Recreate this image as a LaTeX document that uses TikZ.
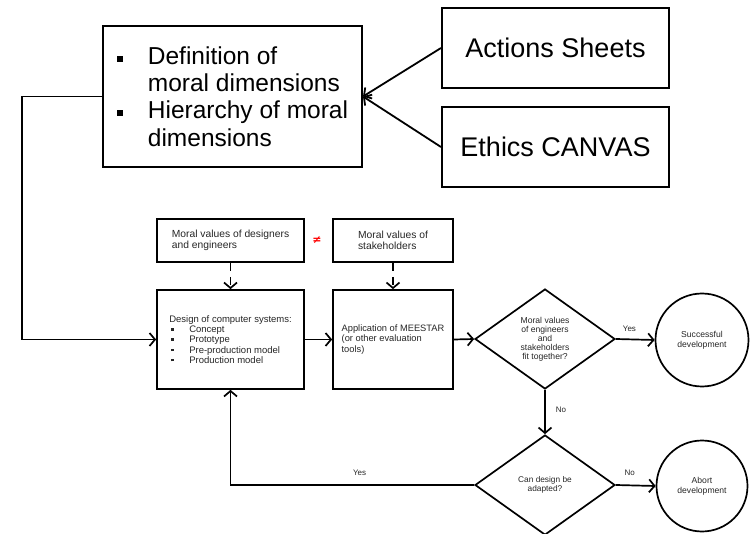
\documentclass[tikz,border=0pt]{standalone}
\usepackage{fontspec}
\setmainfont{Liberation Sans}
\newfontfamily\symfnt{DejaVu Sans}
\usetikzlibrary{arrows.meta,shapes.geometric}
\definecolor{txtgray}{HTML}{262626}
\newcommand{\bigsq}{\rule[2.5pt]{6pt}{6pt}}
\newcommand{\smsq}{\rule[2pt]{2.6pt}{2.6pt}}
\tikzset{
  bigbox/.style={draw=black, line width=2pt, inner sep=0pt, align=left},
  flowbox/.style={draw=black, line width=1.7pt, inner sep=0pt, align=left, text=txtgray},
  decision/.style={draw=black, line width=1.7pt, diamond, inner sep=0pt, minimum width=140pt, minimum height=100pt, align=center, text=txtgray, font=\fontsize{8.6pt}{9pt}\selectfont},
  endnode/.style={draw=black, line width=1.7pt, circle, inner sep=0pt, minimum size=93pt, align=center, text=txtgray, font=\fontsize{8.6pt}{10pt}\selectfont},
  arr/.style={line width=1.7pt, -{Straight Barb[length=5.5pt,width=13pt,line width=1.7pt]}},
  bigarr/.style={line width=1.8pt, -{Straight Barb[length=5.5pt,width=13pt,line width=1.8pt]}},
  dasharr/.style={arr, dash pattern=on 8pt off 6pt},
  lbl/.style={text=txtgray, font=\fontsize{8pt}{9pt}\selectfont, inner sep=1pt}
}
\begin{document}
\begin{tikzpicture}[x=1pt,y=-1pt]
\useasboundingbox (0,0) rectangle (752,534);

% top part
\node[bigbox, minimum width=259pt, minimum height=141pt, font=\fontsize{24.5pt}{27.3pt}\selectfont] (defbox) at (232.5,96.5)
  {\makebox[31pt][l]{\bigsq}Definition of\\
   \hspace*{31pt}moral dimensions\\
   \makebox[31pt][l]{\bigsq}Hierarchy of moral\\
   \hspace*{31pt}dimensions};
\node[bigbox, align=center, minimum width=227pt, minimum height=80pt, font=\fontsize{27pt}{30pt}\selectfont] (actions) at (555.5,48) {Actions Sheets};
\node[bigbox, align=center, minimum width=227pt, minimum height=80pt, font=\fontsize{27pt}{30pt}\selectfont] (ethics) at (555.5,147) {Ethics CANVAS};

\draw[bigarr] (actions.west) -- (defbox.east);
\draw[bigarr] (ethics.west) -- (defbox.east);

% value boxes
\node[flowbox, minimum width=147pt, minimum height=43pt, font=\fontsize{10.3pt}{11.5pt}\selectfont] (designers) at (230.5,240.5)
  {Moral values of designers\\and engineers};
\node[flowbox, minimum width=120pt, minimum height=43pt, font=\fontsize{10.3pt}{11.5pt}\selectfont] (stake) at (393,240.5)
  {Moral values of\\stakeholders};
\node[text=red, inner sep=0pt, font=\symfnt\bfseries\fontsize{11pt}{11pt}\selectfont] (neq) at (317,240.5) {≠};

% main boxes
\node[flowbox, minimum width=147pt, minimum height=99pt, font=\fontsize{9.5pt}{10.3pt}\selectfont] (design) at (230.5,339.5)
  {Design of computer systems:\\
   \makebox[20pt][l]{\hspace*{2pt}\smsq}Concept\\
   \makebox[20pt][l]{\hspace*{2pt}\smsq}Prototype\\
   \makebox[20pt][l]{\hspace*{2pt}\smsq}Pre-production model\\
   \makebox[20pt][l]{\hspace*{2pt}\smsq}Production model};
\node[flowbox, minimum width=120pt, minimum height=99pt, font=\fontsize{9.3pt}{10.3pt}\selectfont] (apply) at (393,339.5)
  {Application of MEESTAR\\(or other evaluation\\tools)};

\node[decision] (fit) at (545,339) {Moral values\\of engineers\\and\\stakeholders\\fit together?};
\node[endnode] (succ) at (702,340) {Successful\\development};
\node[decision, font=\fontsize{8.3pt}{9.2pt}\selectfont] (adapt) at (545,485) {Can design be\\adapted?};
\node[endnode, minimum size=91pt] (abort) at (702,486) {Abort\\development};

% connectors
\draw[arr] (defbox.west) -- ++(-80,0) |- (design.west);
\draw[dasharr] (designers.south) -- (design.north);
\draw[dasharr] (stake.south) -- (apply.north);
\draw[arr] (design.east) -- (apply.west);
\draw[arr] (apply.east) -- (fit.west);
\draw[arr] (fit.east) -- node[lbl, pos=0.35, above=6pt] (yes1) {Yes} (succ.west);
\draw[arr] (fit.south) -- node[lbl, pos=0.45, right=9pt] (no1) {No} (adapt.north);
\draw[arr] (adapt.west) -| node[lbl, pos=0.235, above=8pt] (yes2) {Yes} (design.south);
\draw[arr] (adapt.east) -- node[lbl, pos=0.35, above=8pt] (no2) {No} (abort.west);
\end{tikzpicture}
\end{document}
